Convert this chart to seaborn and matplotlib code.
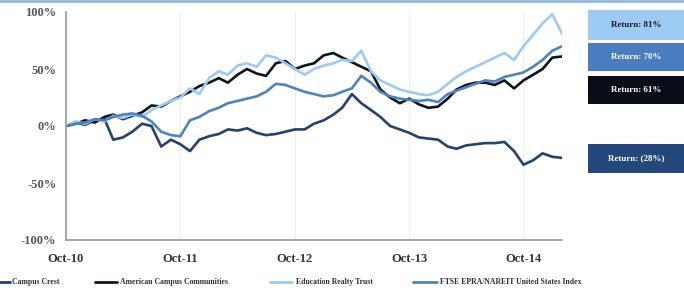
import matplotlib
matplotlib.use('Agg')
import matplotlib.pyplot as plt
import matplotlib.dates as mdates
from matplotlib.patches import Rectangle
from matplotlib.lines import Line2D
import seaborn as sns
import pandas as pd

# monthly cumulative returns (%), Oct-10 .. Feb-15
dates = pd.date_range('2010-10-01', periods=53, freq='MS')

campus_crest = [0, 3, 1, 5, 6, -12, -10, -5, 2, 0, -18, -12, -16, -22, -12, -9, -7, -3,
                -4, -2, -6, -8, -7, -5, -3, -3, 2, 5, 10, 16, 28, 20, 14, 8, 0, -3, -6,
                -10, -11, -12, -18, -20, -17, -16, -15, -15, -14, -22, -34, -30, -24, -27, -28]
american_campus = [0, 2, 5, 3, 8, 10, 6, 9, 12, 18, 17, 22, 26, 30, 35, 38, 42, 38, 45, 50,
                   46, 44, 55, 57, 50, 53, 55, 62, 64, 60, 56, 52, 48, 32, 25, 20, 24, 19, 16,
                   17, 24, 32, 36, 38, 38, 36, 40, 33, 40, 45, 50, 60, 61]
education_realty = [0, 4, 2, 6, 4, 9, 7, 10, 8, 14, 18, 22, 25, 33, 28, 42, 48, 45, 53, 55,
                    52, 62, 60, 55, 50, 45, 50, 53, 55, 58, 57, 66, 48, 40, 36, 32, 30, 28, 27,
                    30, 37, 43, 48, 52, 56, 60, 64, 58, 70, 80, 90, 98, 81]
ftse_nareit = [0, 2, 3, 6, 5, 8, 10, 11, 9, 4, -5, -8, -9, 5, 8, 13, 16, 20, 22, 24, 26, 30,
               37, 36, 33, 30, 28, 26, 27, 30, 33, 44, 38, 30, 26, 24, 23, 22, 23, 21, 28, 31,
               34, 37, 40, 39, 43, 45, 47, 52, 58, 66, 70]

names = ['Campus Crest', 'American Campus Communities', 'Education Realty Trust',
         'FTSE EPRA/NAREIT United States Index']
colors = ['#24416f', '#0d1520', '#9ccaf2', '#4f82c0']

df = pd.concat([
    pd.DataFrame({'date': dates, 'value': vals, 'series': name})
    for name, vals in zip(names, [campus_crest, american_campus, education_realty, ftse_nareit])
])

sns.set_style('white')
plt.rcParams['font.family'] = ['Liberation Serif', 'DejaVu Serif']

W, H = 684, 294
fig = plt.figure(figsize=(6.84, 2.94), dpi=100)
ax = fig.add_axes([66 / W, 54 / H, 496 / W, 228 / H])

sns.lineplot(data=df, x='date', y='value', hue='series', hue_order=names,
             palette=colors, linewidth=1.9, ax=ax, legend=False)

ax.set_xlim(dates[0], dates[-1])
ax.set_ylim(-100, 100)
ax.set_yticks([-100, -50, 0, 50, 100])
ax.set_yticklabels(['-100%', '-50%', '0%', '50%', '100%'], fontsize=9, fontweight='bold', color='#555555')
ax.xaxis.set_major_locator(mdates.MonthLocator(bymonth=10))
ax.xaxis.set_major_formatter(mdates.DateFormatter('%b-%y'))
for lbl in ax.get_xticklabels():
    lbl.set_fontsize(9)
    lbl.set_fontweight('bold')
    lbl.set_color('#333333')
ax.set_xlabel('')
ax.set_ylabel('')
ax.grid(axis='x', color='#eeeeee', linewidth=0.8)
ax.tick_params(axis='y', length=3, color='#999999', pad=4)
ax.tick_params(axis='x', length=3, color='#999999', pad=6)
for s in ['top', 'right']:
    ax.spines[s].set_visible(False)
for s in ['left', 'bottom']:
    ax.spines[s].set_color('#999999')
    ax.spines[s].set_linewidth(1.2)

# legend strip at the bottom, placed by hand like the original slide
legend_spots = [(0, 10, 12), (95, 117, 120), (270, 292, 296), (413, 437, 440)]
for (x0, x1, xt), name, c in zip(legend_spots, names, colors):
    fig.add_artist(Line2D([x0 / W, x1 / W], [1 - 282 / H] * 2, transform=fig.transFigure,
                          color=c, linewidth=2))
    fig.text(xt / W, 1 - 282 / H, name, ha='left', va='center', fontsize=5.6,
             fontweight='bold', color='#333333')

# return boxes on the right
boxes = [(10, 40, '#9ccaf2', '#1a1a2a', 'Return: 81%'),
         (43, 71, '#4a7cc0', 'white', 'Return: 70%'),
         (76, 104, '#0a0d18', 'white', 'Return: 61%'),
         (144, 173, '#24477c', 'white', 'Return: (28%)')]
for top, bot, fc, tc, txt in boxes:
    fig.add_artist(Rectangle((588 / W, 1 - bot / H), 96 / W, (bot - top) / H,
                             transform=fig.transFigure, facecolor=fc, edgecolor='none'))
    fig.text(636 / W, 1 - (top + bot) / 2 / H, txt, ha='center', va='center',
             fontsize=6.5, fontweight='bold', color=tc)

# thin border line along the top
fig.add_artist(Line2D([0, 1], [0.995, 0.995], transform=fig.transFigure,
                      color='#8fb8e0', linewidth=2))

fig.savefig('out.png', dpi=100)
plt.close(fig)
